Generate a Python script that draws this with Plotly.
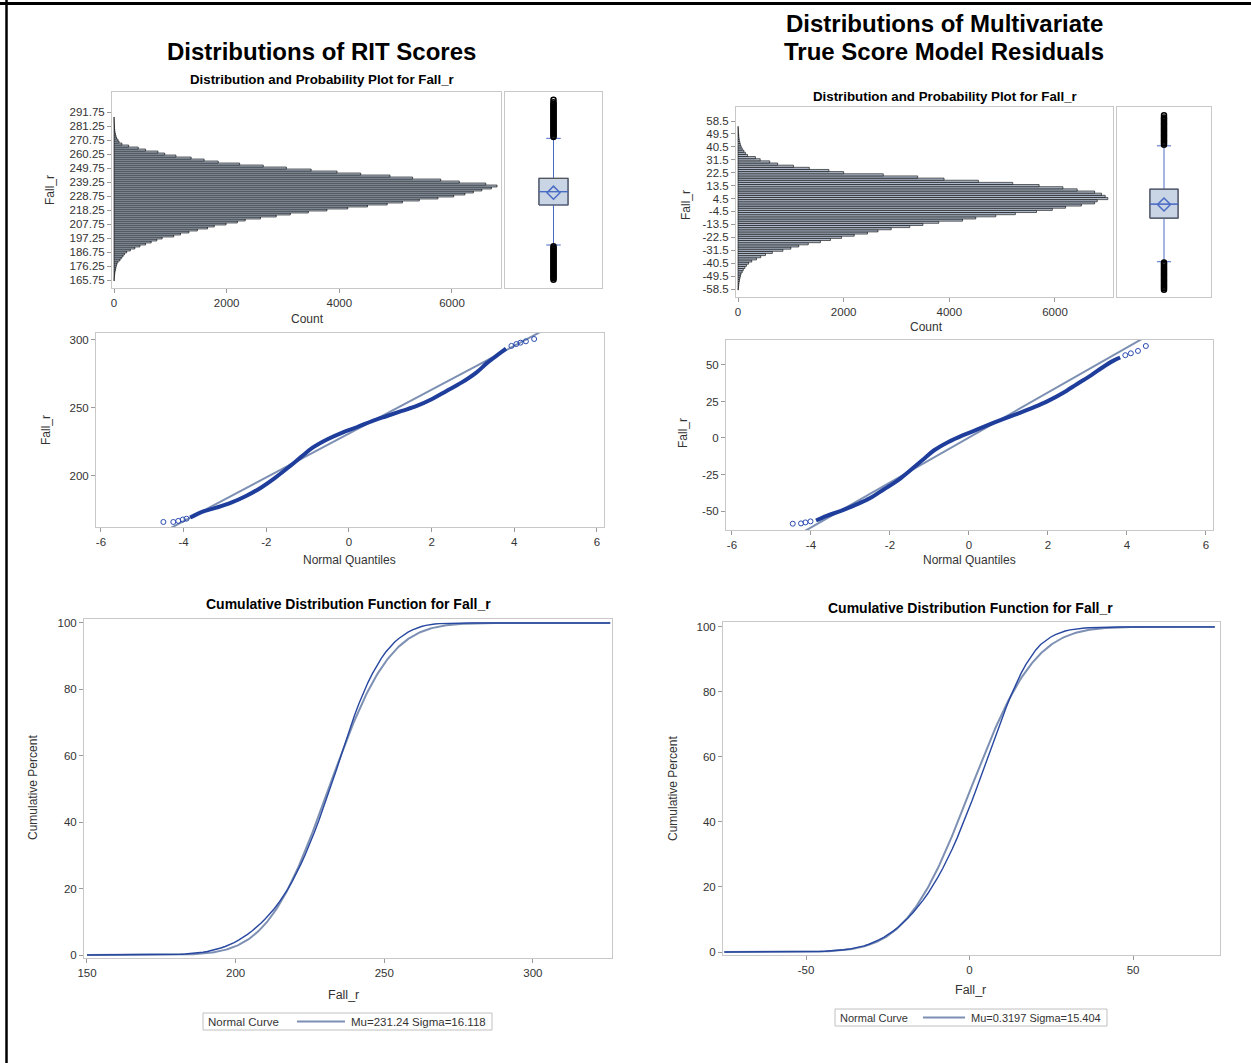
import math
import numpy as np
import plotly.graph_objects as go

W, H = 1251, 1063
FONT = "Arial, Liberation Sans, sans-serif"

# ---------------- RIT scores (left column) ----------------
rit_bin_start = 165.75
rit_bin_width = 1.5
rit_counts = [3, 5, 8, 13, 18, 25, 32, 40, 50, 70, 105, 130, 160, 185, 225, 290, 370, 460,
              560, 660, 760, 855, 1060, 1180, 1330, 1480, 1660, 1780, 1990, 2190, 2330, 2600,
              2880, 3130, 3450, 3780, 4150, 4500, 4850, 5120, 5420, 5750, 6030, 6230, 6380,
              6530, 6700, 6800, 6600, 6130, 5800, 5300, 4900, 4380, 3960, 3500, 3060, 2650,
              2230, 1850, 1600, 1370, 1100, 900, 780, 560, 430, 260, 140, 90, 70, 45, 35, 25,
              18, 13, 10, 8, 6, 4, 3, 2]
rit_yticks = [165.75, 176.25, 186.75, 197.25, 207.75, 218.25, 228.75, 239.25, 249.75,
              260.25, 270.75, 281.25, 291.75]
rit_box = dict(q1=222, median=232, q3=242, lowerfence=192, upperfence=272, mean=231.24)
rit_out_low = [166, 167, 168, 169, 170, 171, 172, 173, 174, 175, 176, 177, 178, 179, 180,
               181, 182, 183, 184, 185, 186, 187, 188, 189, 190, 191]
rit_out_high = [273, 274, 275, 276, 277, 278, 279, 280, 281, 282, 283, 284, 285, 286, 287,
                288, 289, 290, 291, 292, 293, 294, 295, 296, 297, 298, 299, 301]
# normal quantile plot: dense body and sparse tail points
rit_qq_q = [-3.84, -3.57, -3.21, -2.85, -2.49, -2.13, -1.78, -1.42, -1.15, -0.88, -0.52,
            -0.16, 0.20, 0.56, 0.92, 1.28, 1.64, 2.00, 2.36, 2.72, 3.08, 3.35, 3.62, 3.80]
rit_qq_y = [169.4, 173.5, 176.7, 180.4, 185.3, 191.4, 198.8, 207.4, 214.2, 220.8, 227.0,
            231.9, 236.0, 240.4, 244.1, 247.8, 251.5, 256.4, 262.5, 268.6, 276.0, 283.3,
            289.5, 293.6]
rit_tail_q = [-4.49, -4.25, -4.13, -4.02, -3.93, 3.93, 4.05, 4.15, 4.28, 4.48]
rit_tail_y = [166.2, 166.2, 167.0, 168.0, 168.6, 295.6, 297.0, 298.0, 299.0, 300.7]
rit_mu, rit_sigma = 231.24, 16.118

# ---------------- Model residuals (right column) ----------------
res_bin_start = -58.5
res_bin_width = 1.5
res_counts = [5, 10, 15, 20, 28, 35, 45, 55, 80, 100, 130, 160, 200, 260, 350, 430, 520, 650,
              850, 1000, 1150, 1330, 1560, 1750, 1960, 2200, 2450, 2650, 2900, 3250, 3500,
              3800, 4250, 4500, 4880, 5250, 5650, 5950, 6200, 6500, 6750, 6800, 7000, 6950,
              6880, 6750, 6420, 6150, 5700, 5200, 4550, 3900, 3400, 2750, 2000, 1720, 1350,
              1050, 750, 600, 420, 330, 180, 140, 110, 80, 60, 45, 35, 25, 20, 15, 12, 8, 6, 4]
res_yticks = [-58.5, -49.5, -40.5, -31.5, -22.5, -13.5, -4.5, 4.5, 13.5, 22.5, 31.5, 40.5,
              49.5, 58.5]
res_box = dict(q1=-9.2, median=0.6, q3=11.0, lowerfence=-39.5, upperfence=41.2, mean=0.3197)
res_out_low = [-59, -58, -57, -56, -55, -54, -53, -52, -51, -50, -49, -48, -47, -46, -45,
               -44, -43, -42, -41, -40]
res_out_high = [42, 43, 44, 45, 46, 47, 48, 49, 50, 51, 52, 53, 54, 55, 56, 57, 58, 59, 60,
                61, 62.5]
res_qq_q = [-3.87, -3.60, -3.24, -2.87, -2.51, -2.15, -1.79, -1.43, -1.15, -0.88, -0.52,
            -0.16, 0.20, 0.57, 0.93, 1.29, 1.65, 2.02, 2.38, 2.74, 3.10, 3.38, 3.65, 3.83]
res_qq_y = [-56.5, -53.3, -49.9, -45.8, -41.3, -35.1, -28.8, -20.9, -14.5, -8.4, -2.7,
            1.8, 5.7, 9.8, 13.6, 17.2, 21.1, 25.6, 30.8, 37.0, 43.1, 48.3, 52.8, 55.1]
res_tail_q = [-4.46, -4.25, -4.14, -4.01, 3.96, 4.10, 4.28, 4.48]
res_tail_y = [-58.7, -58.5, -57.8, -57.1, 56.7, 58.0, 59.6, 63.0]
res_mu, res_sigma = 0.3197, 15.404

# ---------------- styling ----------------
FRAME = "#c8c8c8"
TICKC = "#333333"
BAR_FILL = "#aeb9c9"
BOX_FILL = "#c9d4e5"
BLUE = "#2747a0"
QQBLUE = "#1f3e9c"
NORMAL = "#7d90b3"
BOXLINE = "#4a6cc4"


def xd(a, b):
    return [a / W, b / W]


def yd(top, bottom):
    return [1 - bottom / H, 1 - top / H]


def bins(start, width, counts):
    return [start + i * width for i in range(len(counts))]


def labels(vals, fmt="{:g}"):
    # plain hyphen-minus, as in SAS output
    return [fmt.format(v) for v in vals]


def ecdf_from_hist(start, width, counts, lo, hi):
    total = float(sum(counts))
    xs = [lo, start - width / 2]
    ys = [0.0, 0.0]
    cum = 0
    for i, c in enumerate(counts):
        cum += c
        xs.append(start - width / 2 + (i + 1) * width)
        ys.append(100.0 * cum / total)
    xs.append(hi)
    ys.append(100.0)
    return xs, ys


def normal_cdf(xs, mu, sigma):
    return [50.0 * (1 + math.erf((x - mu) / (sigma * math.sqrt(2)))) for x in xs]


fig = go.Figure()

axis_common = dict(showgrid=False, zeroline=False, showline=True, mirror=True,
                   linecolor=FRAME, linewidth=1, ticks="outside", ticklen=4,
                   tickcolor="#9a9a9a", tickfont=dict(family=FONT, size=11.5, color=TICKC))


def text(x, y, s, size, bold=False, color="black", angle=0, anchor="center"):
    fig.add_annotation(x=x / W, y=1 - y / H, xref="paper", yref="paper",
                       text=f"<b>{s}</b>" if bold else s, showarrow=False,
                       xanchor=anchor, yanchor="middle", textangle=angle,
                       font=dict(family=FONT, size=size, color=color))


def add_column(col, cfg):
    ax = lambda k: (col * 4 + k)
    names = [("x" if ax(k) == 1 else f"x{ax(k)}", "y" if ax(k) == 1 else f"y{ax(k)}")
             for k in (1, 2, 3, 4)]

    # --- histogram
    centers = bins(cfg["start"], cfg["width"], cfg["counts"])
    fig.add_trace(go.Bar(orientation="h", y=centers, x=cfg["counts"], width=cfg["width"],
                         marker=dict(color=BAR_FILL, line=dict(color="black", width=0.6)),
                         xaxis=names[0][0], yaxis=names[0][1], showlegend=False,
                         hoverinfo="skip"))
    # --- box plot
    b = cfg["box"]
    fig.add_trace(go.Box(x=[0], q1=[b["q1"]], median=[b["median"]], q3=[b["q3"]],
                         lowerfence=[b["lowerfence"]], upperfence=[b["upperfence"]],
                         width=0.6, whiskerwidth=0.5, fillcolor=BOX_FILL,
                         line=dict(color=BOXLINE, width=1), boxpoints=False,
                         xaxis=names[1][0], yaxis=names[1][1], showlegend=False,
                         hoverinfo="skip"))
    fig.add_trace(go.Scatter(x=[-0.3, 0.3, 0.3, -0.3, -0.3],
                             y=[b["q1"], b["q1"], b["q3"], b["q3"], b["q1"]],
                             mode="lines", line=dict(color="#555555", width=1.2),
                             xaxis=names[1][0], yaxis=names[1][1], showlegend=False,
                             hoverinfo="skip"))
    fig.add_trace(go.Scatter(x=[-0.3, 0.3], y=[b["median"], b["median"]], mode="lines",
                             line=dict(color=BOXLINE, width=1.2),
                             xaxis=names[1][0], yaxis=names[1][1], showlegend=False,
                             hoverinfo="skip"))
    fig.add_trace(go.Scatter(x=[0], y=[b["mean"]], mode="markers",
                             marker=dict(symbol="diamond-open", size=10, color=BOXLINE,
                                         line=dict(width=1.5, color=BOXLINE)),
                             xaxis=names[1][0], yaxis=names[1][1], showlegend=False,
                             hoverinfo="skip"))
    outs = cfg["out_low"] + cfg["out_high"]
    fig.add_trace(go.Scatter(x=[0] * len(outs), y=outs, mode="markers",
                             marker=dict(symbol="circle-open", size=5, color="black",
                                         line=dict(width=1.5, color="black")),
                             xaxis=names[1][0], yaxis=names[1][1], showlegend=False,
                             hoverinfo="skip"))

    # --- Q-Q plot
    qr = cfg["qq_xrange"]
    fig.add_trace(go.Scatter(x=qr, y=[cfg["mu"] + cfg["sigma"] * q for q in qr], mode="lines",
                             line=dict(color=NORMAL, width=2),
                             xaxis=names[2][0], yaxis=names[2][1], showlegend=False,
                             hoverinfo="skip"))
    fig.add_trace(go.Scatter(x=cfg["qq_q"], y=cfg["qq_y"], mode="lines",
                             line=dict(color=QQBLUE, width=4, shape="spline"),
                             xaxis=names[2][0], yaxis=names[2][1], showlegend=False,
                             hoverinfo="skip"))
    fig.add_trace(go.Scatter(x=cfg["tail_q"], y=cfg["tail_y"], mode="markers",
                             marker=dict(symbol="circle-open", size=5, color="#2a4bb0",
                                         line=dict(width=1)),
                             xaxis=names[2][0], yaxis=names[2][1], showlegend=False,
                             hoverinfo="skip"))

    # --- CDF
    lo, hi = cfg["cdf_line"]
    ex, ey = ecdf_from_hist(cfg["start"], cfg["width"], cfg["counts"], lo, hi)
    nx = list(np.linspace(lo, hi, 400))
    fig.add_trace(go.Scatter(x=nx, y=normal_cdf(nx, cfg["mu"], cfg["sigma"]), mode="lines",
                             line=dict(color=NORMAL, width=2),
                             xaxis=names[3][0], yaxis=names[3][1], showlegend=False,
                             hoverinfo="skip"))
    fig.add_trace(go.Scatter(x=ex, y=ey, mode="lines", line=dict(color=BLUE, width=1.4),
                             xaxis=names[3][0], yaxis=names[3][1], showlegend=False,
                             hoverinfo="skip"))

    # --- axes
    L = cfg["layout"]

    def key(kind, k):
        i = ax(k)
        return f"{kind}axis" if i == 1 else f"{kind}axis{i}"

    count_ticks = [0, 2000, 4000, 6000]
    qq_xticks = [-6, -4, -2, 0, 2, 4, 6]
    pct_ticks = [0, 20, 40, 60, 80, 100]
    fig.layout[key("x", 1)] = dict(axis_common, domain=xd(*L["hist_x"]), range=cfg["hist_xr"],
                                   anchor=names[0][1], tickvals=count_ticks,
                                   ticktext=labels(count_ticks))
    fig.layout[key("y", 1)] = dict(axis_common, domain=yd(*L["hist_y"]), range=cfg["hist_yr"],
                                   anchor=names[0][0], tickvals=cfg["yticks"],
                                   ticktext=labels(cfg["yticks"], cfg["tickfmt"]))
    fig.layout[key("x", 2)] = dict(axis_common, domain=xd(*L["box_x"]), range=[-1, 1],
                                   anchor=names[1][1], showticklabels=False, ticks="")
    fig.layout[key("y", 2)] = dict(axis_common, domain=yd(*L["hist_y"]), range=cfg["hist_yr"],
                                   anchor=names[1][0], showticklabels=False, ticks="")
    fig.layout[key("x", 3)] = dict(axis_common, domain=xd(*L["qq_x"]), range=cfg["qq_xrange"],
                                   anchor=names[2][1], tickvals=qq_xticks,
                                   ticktext=labels(qq_xticks))
    fig.layout[key("y", 3)] = dict(axis_common, domain=yd(*L["qq_y"]), range=cfg["qq_yrange"],
                                   anchor=names[2][0], tickvals=cfg["qq_yticks"],
                                   ticktext=labels(cfg["qq_yticks"]))
    fig.layout[key("x", 4)] = dict(axis_common, domain=xd(*L["cdf_x"]), range=cfg["cdf_xr"],
                                   anchor=names[3][1], tickvals=cfg["cdf_xticks"],
                                   ticktext=labels(cfg["cdf_xticks"]))
    fig.layout[key("y", 4)] = dict(axis_common, domain=yd(*L["cdf_y"]), range=cfg["cdf_yr"],
                                   anchor=names[3][0], tickvals=pct_ticks,
                                   ticktext=labels(pct_ticks))

    # --- legend box for the fitted normal curve
    lx0, ly0, lx1, ly1 = L["legend"]
    s0, s1, t0, fs = L["legend_parts"]
    fig.add_shape(type="rect", xref="paper", yref="paper", x0=lx0 / W, x1=lx1 / W,
                  y0=1 - ly1 / H, y1=1 - ly0 / H, line=dict(color="#c0c0c0", width=1))
    ym = (ly0 + ly1) / 2
    text(lx0 + 3, ym, "Normal Curve", fs, color=TICKC, anchor="left")
    fig.add_shape(type="line", xref="paper", yref="paper", x0=(lx0 + s0) / W,
                  x1=(lx0 + s1) / W, y0=1 - ym / H, y1=1 - ym / H,
                  line=dict(color=NORMAL, width=2))
    text(lx0 + t0, ym, f"Mu={cfg['mu']} Sigma={cfg['sigma']}", fs, color=TICKC,
         anchor="left")


left = dict(start=rit_bin_start, width=rit_bin_width, counts=rit_counts, box=rit_box,
            out_low=rit_out_low, out_high=rit_out_high, qq_q=rit_qq_q, qq_y=rit_qq_y,
            tail_q=rit_tail_q, tail_y=rit_tail_y,
            mu=rit_mu, sigma=rit_sigma, yticks=rit_yticks, tickfmt="{:.2f}",
            hist_xr=[-35.5, 6870], hist_yr=[159.75, 306.75],
            qq_xrange=[-6.12, 6.17], qq_yrange=[162.5, 305.1], qq_yticks=[200, 250, 300],
            cdf_xr=[149.0, 326.6], cdf_yr=[-0.9, 101.2], cdf_xticks=[150, 200, 250, 300],
            cdf_line=[150, 326],
            layout=dict(hist_x=(112, 501), hist_y=(92, 288), box_x=(505, 602),
                        qq_x=(96, 604), qq_y=(333, 527), cdf_x=(84, 612), cdf_y=(619, 958),
                        legend=(203, 1013, 492, 1030), legend_parts=(94, 142, 146, 11.5)))

right = dict(start=res_bin_start, width=res_bin_width, counts=res_counts, box=res_box,
             out_low=res_out_low, out_high=res_out_high, qq_q=res_qq_q, qq_y=res_qq_y,
             tail_q=res_tail_q, tail_y=res_tail_y,
             mu=res_mu, sigma=res_sigma, yticks=res_yticks, tickfmt="{:.1f}",
             hist_xr=[-38, 7098], hist_yr=[-64.07, 68.25],
             qq_xrange=[-6.15, 6.18], qq_yrange=[-63.0, 67.1], qq_yticks=[-50, -25, 0, 25, 50],
             cdf_xr=[-75.4, 76.6], cdf_yr=[-0.92, 101.5], cdf_xticks=[-50, 0, 50],
             cdf_line=[-75, 75],
             layout=dict(hist_x=(736, 1113), hist_y=(107, 297), box_x=(1117, 1211),
                         qq_x=(726, 1213), qq_y=(340, 530), cdf_x=(723, 1220),
                         cdf_y=(622, 955), legend=(835, 1009, 1107, 1026),
                         legend_parts=(88, 130, 134, 11)))

add_column(0, left)
add_column(1, right)

# ---------------- titles and axis labels ----------------
text(321, 51, "Distributions of RIT Scores", 24, bold=True)
text(944, 23, "Distributions of Multivariate", 24, bold=True)
text(944, 51, "True Score Model Residuals", 24, bold=True)

text(322, 80, "Distribution and Probability Plot for Fall_r", 13.3, bold=True)
text(945, 96, "Distribution and Probability Plot for Fall_r", 13.3, bold=True)
text(348, 604, "Cumulative Distribution Function for Fall_r", 14, bold=True)
text(970, 608, "Cumulative Distribution Function for Fall_r", 14, bold=True)

text(307, 319, "Count", 12, color=TICKC)
text(926, 327, "Count", 12, color=TICKC)
text(50, 190, "Fall_r", 12, color=TICKC, angle=-90)
text(686, 205, "Fall_r", 12, color=TICKC, angle=-90)
text(349, 560, "Normal Quantiles", 12, color=TICKC)
text(969, 560, "Normal Quantiles", 12, color=TICKC)
text(46, 430, "Fall_r", 12, color=TICKC, angle=-90)
text(683, 433, "Fall_r", 12, color=TICKC, angle=-90)
text(343, 995, "Fall_r", 12.5, color=TICKC)
text(970, 990, "Fall_r", 12.5, color=TICKC)
text(33, 788, "Cumulative Percent", 12, color=TICKC, angle=-90)
text(673, 788, "Cumulative Percent", 12, color=TICKC, angle=-90)

# page rules (top and left)
fig.add_shape(type="line", xref="paper", yref="paper", x0=0, x1=1, y0=1 - 3.5 / H,
              y1=1 - 3.5 / H, line=dict(color="black", width=3))
fig.add_shape(type="line", xref="paper", yref="paper", x0=6.5 / W, x1=6.5 / W, y0=0, y1=1,
              line=dict(color="black", width=2.5))

fig.update_layout(width=W, height=H,
                  margin=dict(l=0, r=0, t=0, b=0, pad=0, autoexpand=False),
                  paper_bgcolor="white", plot_bgcolor="white", barmode="overlay",
                  font=dict(family=FONT), showlegend=False)

fig.write_html("out.html")
